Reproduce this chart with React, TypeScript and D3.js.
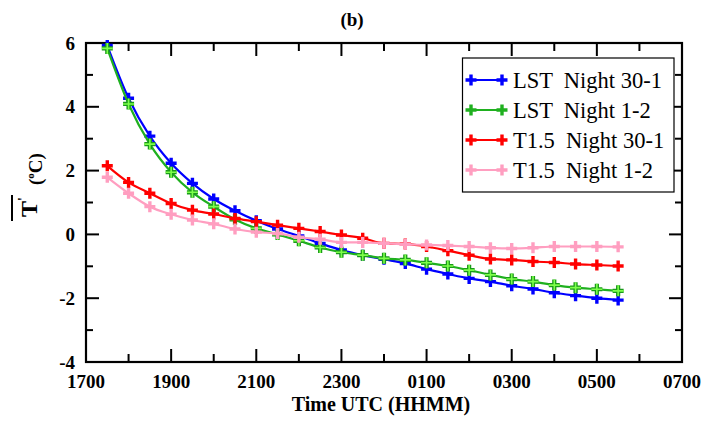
import React from "react";
import * as d3 from "d3";

const times = ["1730","1800","1830","1900","1930","2000","2030","2100","2130","2200","2230","2300","2330","2400","0030","0100","0130","0200","0230","0300","0330","0400","0430","0500","0530"];
const lstNight30_1 = [5.92,4.27,3.08,2.23,1.60,1.11,0.74,0.43,0.17,-0.05,-0.28,-0.49,-0.65,-0.78,-0.91,-1.09,-1.24,-1.38,-1.48,-1.61,-1.71,-1.83,-1.92,-2.00,-2.06];
const lstNight1_2 = [5.83,4.09,2.83,1.95,1.32,0.87,0.47,0.19,0.0,-0.20,-0.41,-0.56,-0.65,-0.75,-0.80,-0.89,-0.99,-1.12,-1.27,-1.40,-1.48,-1.59,-1.67,-1.72,-1.77];
const t15Night30_1 = [2.15,1.63,1.29,0.97,0.76,0.64,0.50,0.40,0.29,0.19,0.09,-0.02,-0.12,-0.28,-0.30,-0.38,-0.51,-0.65,-0.77,-0.80,-0.85,-0.88,-0.93,-0.96,-0.99];
const t15Night1_2 = [1.79,1.29,0.87,0.63,0.45,0.33,0.17,0.07,0.03,-0.09,-0.15,-0.25,-0.25,-0.28,-0.31,-0.33,-0.35,-0.38,-0.42,-0.44,-0.42,-0.38,-0.38,-0.38,-0.39];
const seriesNames = ["LST  Night 30-1","LST  Night 1-2","T1.5  Night 30-1","T1.5  Night 1-2"];
const xTickLabels = ["1700","1900","2100","2300","0100","0300","0500","0700"];
const yTickValues = [-4,-2,0,2,4,6];

const colors = ["#0000ff","#1fb01f","#ff0000","#ff9ec0"];

function hoursSince1700(t: string) {
  const hh = +t.slice(0, 2);
  const mm = +t.slice(2);
  return ((hh - 17 + 24) % 24) + mm / 60;
}

const FONT = "'Liberation Serif','Times New Roman',serif";

function Plus({ x, y, color, i }: { x: number; y: number; color: string; i: number }) {
  const s = 5.5;
  const d = `M${x - s},${y}H${x + s}M${x},${y - s}V${y + s}`;
  if (i === 1) {
    return (
      <g>
        <path d={d} stroke="#1a9a1a" strokeWidth={4.2} />
        <path d={d} stroke="#7dff4a" strokeWidth={1.6} />
      </g>
    );
  }
  return <path d={d} stroke={color} strokeWidth={3.4} />;
}

export default function App() {
  const W = 706, H = 421;
  const L = 86, R = 682, T = 43, B = 362;
  const x = d3.scaleLinear().domain([0, 14]).range([L, R]);
  const y = d3.scaleLinear().domain([-4, 6]).range([B, T]);
  const xs = times.map(hoursSince1700);
  const series = [lstNight30_1, lstNight1_2, t15Night30_1, t15Night1_2];
  const line = d3
    .line<number>()
    .x((_, i) => x(xs[i]))
    .y((v) => y(v))
    .curve(d3.curveMonotoneX);

  const xMinor = d3.range(0, 15, 1);
  const yMinor = d3.range(-4, 7, 1);

  return (
    <svg width={W} height={H} style={{ position: "absolute", left: 0, top: 0, background: "#fff" }} fontFamily={FONT}>
      <rect x={0} y={0} width={W} height={H} fill="#fff" />
      {/* title */}
      <text x={352} y={26} textAnchor="middle" fontWeight="bold" fontSize={19}>(b)</text>

      {/* ticks */}
      {xMinor.map((h) => {
        const major = h % 2 === 0;
        const len = major ? 13 : 8;
        return (
          <g key={"xt" + h} stroke="#000" strokeWidth={2}>
            <line x1={x(h)} x2={x(h)} y1={B} y2={B - len} />
            <line x1={x(h)} x2={x(h)} y1={T} y2={T + len} />
          </g>
        );
      })}
      {yMinor.map((v) => {
        const major = v % 2 === 0;
        const len = major ? 13 : 7;
        return (
          <g key={"yt" + v} stroke="#000" strokeWidth={2}>
            <line x1={L} x2={L + len} y1={y(v)} y2={y(v)} />
            <line x1={R} x2={R - len} y1={y(v)} y2={y(v)} />
          </g>
        );
      })}
      <rect x={L} y={T} width={R - L} height={B - T} fill="none" stroke="#000" strokeWidth={2.2} />

      {/* tick labels */}
      {xTickLabels.map((lab, i) => (
        <text key={lab} x={x(i * 2)} y={388} textAnchor="middle" fontWeight="bold" fontSize={19}>{lab}</text>
      ))}
      {yTickValues.map((v) => (
        <text key={v} x={75} y={y(v)} dy="0.35em" textAnchor="end" fontWeight="bold" fontSize={19}>{v}</text>
      ))}

      {/* axis titles */}
      <text x={381} y={411} textAnchor="middle" fontWeight="bold" fontSize={20}>Time UTC (HHMM)</text>
      <g transform="translate(37,217) rotate(-90)">
        <text x={0} y={0} fontWeight="bold" fontSize={24}>T<tspan fontSize={14} dy={-9}>'</tspan></text>
        <text x={32} y={5} fontWeight="bold" fontSize={19}>(<tspan fontSize={11} dy={-8}>o</tspan><tspan dy={8}>C)</tspan></text>
      </g>
      <line x1={12} x2={12} y1={195} y2={221} stroke="#000" strokeWidth={2} />

      {/* data */}
      {series.map((s, si) => (
        <g key={"s" + si}>
          <path d={line(s) || ""} fill="none" stroke={colors[si]} strokeWidth={2.2} />
          {s.map((v, i) => (
            <Plus key={i} x={x(xs[i])} y={y(v)} color={colors[si]} i={si} />
          ))}
        </g>
      ))}

      {/* legend */}
      <rect x={462.5} y={58} width={211.5} height={134} fill="#fff" stroke="#000" strokeWidth={1.2} />
      {seriesNames.map((name, i) => {
        const ly = 80 + i * 30;
        return (
          <g key={name}>
            <line x1={471} x2={502} y1={ly} y2={ly} stroke={colors[i]} strokeWidth={2} />
            <Plus x={471} y={ly} color={colors[i]} i={i === 1 ? 3 : i} />
            <Plus x={502} y={ly} color={colors[i]} i={i === 1 ? 3 : i} />
            <text x={513} y={ly} dy="0.35em" fontSize={22.5} style={{ whiteSpace: "pre" }}>{name}</text>
          </g>
        );
      })}
    </svg>
  );
}
